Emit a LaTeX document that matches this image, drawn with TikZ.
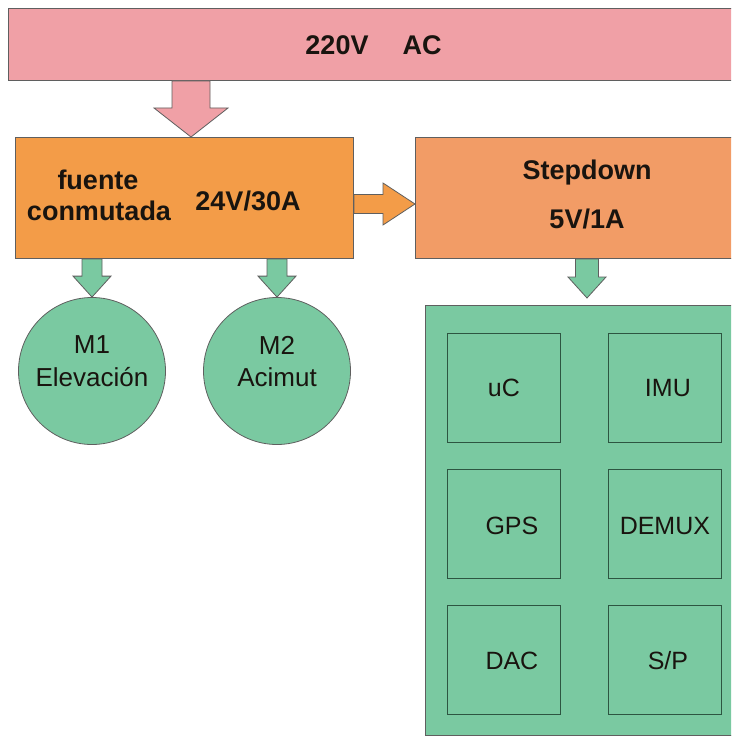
\documentclass[tikz,border=0pt]{standalone}
\usepackage{fontspec}
\setmainfont{Liberation Sans}
\usetikzlibrary{calc}
\definecolor{pinkc}{RGB}{240,160,166}
\definecolor{orangec}{RGB}{243,156,72}
\definecolor{salmonc}{RGB}{242,156,102}
\definecolor{greenc}{RGB}{122,201,161}
\definecolor{edgec}{RGB}{95,95,95}
\definecolor{inedge}{RGB}{45,85,65}
\definecolor{txtc}{RGB}{25,20,15}
\newcommand\barrowdown[6]{%
  \draw[blockarrow, fill=#6] let \p1=(#1), \p2=(#2) in
   (\x2-#3,\y1) -- (\x2+#3,\y1) -- (\x2+#3,\y2+#5) -- (\x2+#4,\y2+#5) -- (\p2)
   -- (\x2-#4,\y2+#5) -- (\x2-#3,\y2+#5) -- cycle;}
\newcommand\barrowright[6]{%
  \draw[blockarrow, fill=#6] let \p1=(#1), \p2=(#2) in
   (\x1,\y2+#3) -- (\x2-#5,\y2+#3) -- (\x2-#5,\y2+#4) -- (\p2)
   -- (\x2-#5,\y2-#4) -- (\x2-#5,\y2-#3) -- (\x1,\y2-#3) -- cycle;}
\begin{document}
\begin{tikzpicture}[x=1pt,y=-1pt,
  box/.style={draw=edgec, line width=1pt, inner sep=0pt, anchor=north west},
  inbox/.style={draw=inedge, line width=0.8pt, inner sep=0pt, anchor=north west,
    minimum width=113pt, minimum height=109pt},
  blockarrow/.style={draw=edgec, line width=0.8pt, line join=miter},
  big/.style={font=\bfseries\fontsize{27}{30}\selectfont, text=txtc, inner sep=0pt},
  circ/.style={circle, draw=edgec, line width=0.8pt, fill=greenc, minimum size=147pt, inner sep=0pt},
  ctxt/.style={font=\fontsize{26}{30}\selectfont, text=txtc, inner sep=0pt},
  itxt/.style={font=\fontsize{25}{30}\selectfont, text=txtc, inner sep=0pt}]
\useasboundingbox (0,0) rectangle (731,738);
\clip (0,0) rectangle (731,738);
\fill[white] (0,0) rectangle (731,738);

% top AC bar
\node[box, fill=pinkc, minimum width=740pt, minimum height=72pt] (ac) at (8,8) {};
\node[big] (t220) at (337,45) {220V};
\node[big] (tac) at (422,45) {AC};

% fuente conmutada
\node[box, fill=orangec, minimum width=338pt, minimum height=121pt] (fuente) at (15,137) {};
\node[big] (tf1) at (98,180) {fuente};
\node[big] (tf2) at (99,211) {conmutada};
\node[big] (tf3) at (248,201) {24V/30A};

% stepdown
\node[box, fill=salmonc, minimum width=330pt, minimum height=121pt] (step) at (415,137) {};
\node[big] (ts1) at (587,173) {Stepdown};
\node[big] (ts2) at (587,219) {5V/1A};

% motors
\node[circ] (m1) at (92,371) {};
\node[ctxt] at (92,345) {M1};
\node[ctxt] at (92,377) {Elevación};
\node[circ] (m2) at (277,371) {};
\node[ctxt] at (277,345) {M2};
\node[ctxt] at (277,377) {Acimut};

% board
\node[box, fill=greenc, minimum width=320pt, minimum height=430pt] (board) at (425,305) {};
\node[inbox] (uc) at (447,333) {};
\node[itxt] at (uc.center) {uC};
\node[inbox] (imu) at (608,333) {};
\node[itxt] at ($(imu.center)+(3,0)$) {IMU};
\node[inbox] (gps) at (447,469) {};
\node[itxt] at ($(gps.center)+(8,2)$) {GPS};
\node[inbox] (demux) at (608,469) {};
\node[itxt] at ($(demux.center)+(0,2)$) {DEMUX};
\node[inbox] (dac) at (447,605) {};
\node[itxt] at ($(dac.center)+(8,1)$) {DAC};
\node[inbox] (sp) at (608,605) {};
\node[itxt] at ($(sp.center)+(3,1)$) {S/P};

% block arrows
\coordinate (xa) at (191,0);
\barrowdown{xa |- ac.south}{xa |- fuente.north}{19pt}{37pt}{29pt}{pinkc}
\coordinate (ya) at (0,204);
\barrowright{fuente.east |- ya}{step.west |- ya}{9.5pt}{21pt}{32pt}{orangec}
\barrowdown{m1.north |- fuente.south}{m1.north}{10pt}{19pt}{21pt}{greenc}
\barrowdown{m2.north |- fuente.south}{m2.north}{10pt}{19pt}{21pt}{greenc}
\coordinate (xs) at (587,298);
\barrowdown{xs |- step.south}{xs}{11.5pt}{19pt}{21pt}{greenc}
\end{tikzpicture}
\end{document}
